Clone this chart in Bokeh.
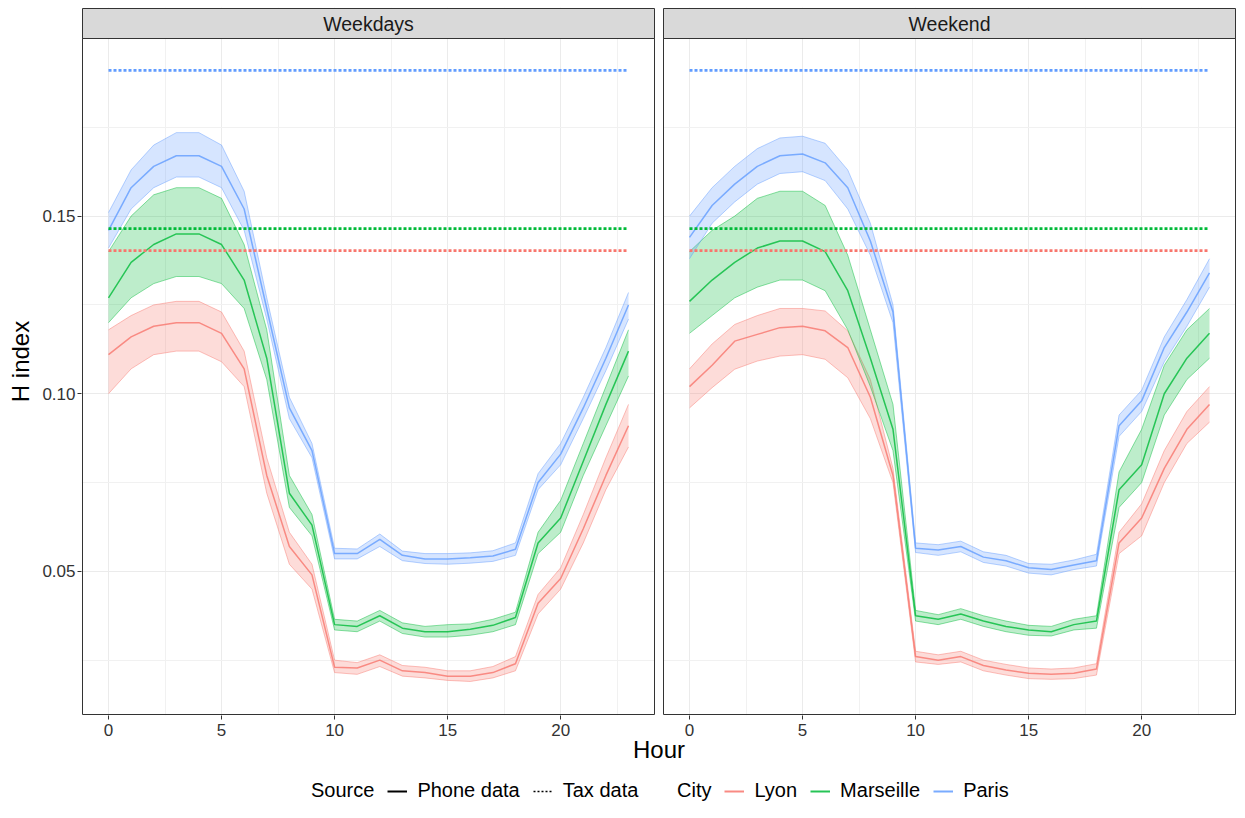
from bokeh.plotting import figure
from bokeh.layouts import column
from bokeh.models import (Range1d, FixedTicker, CustomJSTickFormatter, PrintfTickFormatter,
                          Legend, LegendItem)
from bokeh.core.properties import value
from bokeh.embed import file_html
from bokeh.resources import INLINE

# ---------------- data ----------------
hours = list(range(24))
facets = ["Weekdays", "Weekend"]
cities = ["Lyon", "Marseille", "Paris"]
city_colors = ["#F8766D", "#00BA38", "#619CFF"]
tax_h_index = [0.1403, 0.1465, 0.1910]   # Lyon, Marseille, Paris (tax data)

# Phone data: upper / middle / lower lines of each city's bundle of curves
wd_lyon_hi = [0.118, 0.122, 0.125, 0.126, 0.126, 0.123, 0.112, 0.082, 0.061, 0.052, 0.025, 0.0243,
              0.0265, 0.0235, 0.023, 0.022, 0.022, 0.0232, 0.026, 0.0435, 0.051, 0.066, 0.082, 0.097]
wd_lyon_mid = [0.111, 0.116, 0.119, 0.120, 0.120, 0.117, 0.107, 0.077, 0.057, 0.049, 0.023, 0.0228,
               0.025, 0.022, 0.0215, 0.0205, 0.0205, 0.0215, 0.024, 0.041, 0.048, 0.062, 0.077, 0.091]
wd_lyon_lo = [0.100, 0.107, 0.111, 0.112, 0.112, 0.109, 0.102, 0.072, 0.052, 0.045, 0.0215, 0.021,
              0.0232, 0.0205, 0.020, 0.0193, 0.019, 0.020, 0.022, 0.038, 0.045, 0.058, 0.073, 0.085]

wd_mars_hi = [0.140, 0.150, 0.156, 0.158, 0.158, 0.155, 0.142, 0.118, 0.077, 0.066, 0.0365, 0.036,
              0.039, 0.0355, 0.0345, 0.035, 0.0352, 0.0365, 0.0385, 0.061, 0.070, 0.086, 0.102, 0.118]
wd_mars_mid = [0.127, 0.137, 0.142, 0.145, 0.145, 0.142, 0.132, 0.110, 0.072, 0.063, 0.035, 0.0345,
               0.0375, 0.034, 0.033, 0.033, 0.0337, 0.0348, 0.037, 0.058, 0.065, 0.081, 0.097, 0.112]
wd_mars_lo = [0.120, 0.127, 0.131, 0.133, 0.133, 0.131, 0.124, 0.104, 0.068, 0.060, 0.0335, 0.033,
              0.036, 0.0325, 0.0315, 0.0315, 0.032, 0.033, 0.035, 0.055, 0.061, 0.077, 0.091, 0.105]

wd_paris_hi = [0.151, 0.163, 0.170, 0.1735, 0.1735, 0.170, 0.157, 0.127, 0.099, 0.086, 0.0565, 0.0563,
               0.0605, 0.0557, 0.055, 0.055, 0.0552, 0.0558, 0.058, 0.0775, 0.086, 0.099, 0.113, 0.1285]
wd_paris_mid = [0.146, 0.158, 0.164, 0.167, 0.167, 0.164, 0.152, 0.124, 0.096, 0.084, 0.055, 0.055,
                0.059, 0.0545, 0.0535, 0.0535, 0.0538, 0.0543, 0.0562, 0.075, 0.083, 0.096, 0.110, 0.125]
wd_paris_lo = [0.141, 0.152, 0.158, 0.161, 0.161, 0.158, 0.146, 0.121, 0.093, 0.082, 0.0535, 0.0535,
               0.057, 0.053, 0.0522, 0.052, 0.0523, 0.0528, 0.0545, 0.073, 0.080, 0.093, 0.1065, 0.121]

we_lyon_hi = [0.107, 0.114, 0.1195, 0.122, 0.124, 0.124, 0.1233, 0.1177, 0.104, 0.079, 0.0275, 0.0265,
              0.0275, 0.025, 0.0238, 0.0228, 0.0225, 0.0228, 0.024, 0.061, 0.069, 0.084, 0.095, 0.102]
we_lyon_mid = [0.102, 0.108, 0.1148, 0.1167, 0.1186, 0.119, 0.1177, 0.113, 0.099, 0.077, 0.026, 0.025,
               0.026, 0.0235, 0.0222, 0.0213, 0.021, 0.0213, 0.0225, 0.058, 0.065, 0.079, 0.090, 0.097]
we_lyon_lo = [0.096, 0.1017, 0.1069, 0.1092, 0.1106, 0.111, 0.1097, 0.1045, 0.093, 0.075, 0.0245, 0.0238,
              0.0245, 0.022, 0.0208, 0.0198, 0.0196, 0.0198, 0.0208, 0.055, 0.060, 0.075, 0.086, 0.092]

we_mars_hi = [0.140, 0.146, 0.150, 0.155, 0.157, 0.157, 0.153, 0.139, 0.118, 0.097, 0.039, 0.0378,
              0.0395, 0.0375, 0.036, 0.0348, 0.0345, 0.0365, 0.0375, 0.078, 0.090, 0.108, 0.118, 0.124]
we_mars_mid = [0.126, 0.132, 0.137, 0.141, 0.143, 0.143, 0.140, 0.129, 0.110, 0.090, 0.0375, 0.0365,
               0.038, 0.036, 0.0345, 0.0335, 0.033, 0.035, 0.036, 0.073, 0.080, 0.100, 0.110, 0.117]
we_mars_lo = [0.117, 0.122, 0.127, 0.130, 0.132, 0.132, 0.129, 0.118, 0.102, 0.084, 0.036, 0.035,
              0.0365, 0.0345, 0.033, 0.032, 0.0318, 0.0335, 0.034, 0.068, 0.075, 0.094, 0.104, 0.110]

we_paris_hi = [0.150, 0.158, 0.164, 0.169, 0.172, 0.1725, 0.1705, 0.163, 0.148, 0.125, 0.058, 0.0575,
               0.0585, 0.0555, 0.0545, 0.0522, 0.052, 0.0532, 0.0548, 0.094, 0.101, 0.116, 0.1265, 0.138]
we_paris_mid = [0.144, 0.153, 0.159, 0.164, 0.167, 0.1675, 0.165, 0.158, 0.143, 0.123, 0.0565, 0.056,
                0.057, 0.054, 0.053, 0.051, 0.0505, 0.0518, 0.053, 0.091, 0.098, 0.113, 0.123, 0.134]
we_paris_lo = [0.138, 0.148, 0.154, 0.159, 0.162, 0.1625, 0.160, 0.152, 0.139, 0.120, 0.0553, 0.0545,
               0.0555, 0.0525, 0.0515, 0.0495, 0.049, 0.0505, 0.0515, 0.088, 0.095, 0.109, 0.119, 0.130]

x_major = [0, 5, 10, 15, 20]
x_minor = [2.5, 7.5, 12.5, 17.5, 22.5]
y_major = [0.05, 0.10, 0.15]
y_minor = [0.025, 0.075, 0.125, 0.175]

phone = {
    "Weekdays": [(wd_lyon_lo, wd_lyon_mid, wd_lyon_hi),
                 (wd_mars_lo, wd_mars_mid, wd_mars_hi),
                 (wd_paris_lo, wd_paris_mid, wd_paris_hi)],
    "Weekend": [(we_lyon_lo, we_lyon_mid, we_lyon_hi),
                (we_mars_lo, we_mars_mid, we_mars_hi),
                (we_paris_lo, we_paris_mid, we_paris_hi)],
}

# ---------------- layout geometry ----------------
FONT = "Liberation Sans"
W = 1236
H_MAIN, H_LEG = 770, 32
frame_left = 81
frame_top = 7
gap_px = 9
strip_px, panel_h_px = 30, 676
frame_w = W - frame_left
panel_px = (frame_w - 2 - gap_px) / 2

span = hours[-1] - hours[0]
x_lo = hours[0] - 0.05 * span
x_hi = hours[-1] + 0.05 * span
panel_w = x_hi - x_lo
px_per_x = panel_px / panel_w
offset = panel_w + gap_px / px_per_x            # x shift of the second facet
pad_x = 1.0 / px_per_x

y_lo, y_panel_top = 0.0097, 0.2000
px_per_y = panel_h_px / (y_panel_top - y_lo)
y_strip_top = y_panel_top + strip_px / px_per_y
pad_y = 1.0 / px_per_y
frame_h = strip_px + panel_h_px + 2

p = figure(width=W, height=H_MAIN, output_backend="svg", toolbar_location=None,
           x_range=Range1d(x_lo - pad_x, x_lo - pad_x + frame_w / px_per_x),
           y_range=Range1d(y_lo - pad_y, y_strip_top + pad_y),
           min_border_left=frame_left, min_border_right=0,
           min_border_top=frame_top, min_border_bottom=H_MAIN - frame_top - frame_h)
p.outline_line_color = None
p.background_fill_color = "white"
p.border_fill_color = "white"

# ---------------- axes & grid ----------------
p.xaxis.ticker = FixedTicker(ticks=x_major + [t + offset for t in x_major],
                             minor_ticks=x_minor + [t + offset for t in x_minor])
p.xaxis.formatter = CustomJSTickFormatter(
    args=dict(off=offset, mid=x_hi + 0.5 * gap_px / px_per_x),
    code="const v = tick > mid ? tick - off : tick; return v.toFixed(0);")
p.yaxis.ticker = FixedTicker(ticks=y_major, minor_ticks=y_minor)
p.yaxis.formatter = PrintfTickFormatter(format="%.2f")

for ax in (p.xaxis[0], p.yaxis[0]):
    ax.axis_line_color = None
    ax.major_tick_line_color = "#333333"
    ax.major_tick_line_width = 1
    ax.major_tick_in = 0
    ax.major_tick_out = 4
    ax.minor_tick_line_color = None
    ax.major_label_text_font = FONT
    ax.major_label_text_font_size = "17px"
    ax.major_label_text_color = "#333333"
    ax.axis_label_text_font = FONT
    ax.axis_label_text_font_size = "24px"
    ax.axis_label_text_font_style = "normal"
    ax.axis_label_text_color = "black"

p.xaxis.axis_label = "Hour"
p.xaxis.major_label_standoff = 4
p.xaxis.axis_label_standoff = -3
p.yaxis.axis_label = "H index"
p.yaxis.major_label_standoff = 2
p.yaxis.axis_label_standoff = 5

for g in (p.xgrid[0], p.ygrid[0]):
    g.grid_line_color = "#EBEBEB"
    g.grid_line_width = 1
    g.minor_grid_line_color = "#F1F1F1"
    g.minor_grid_line_width = 1

# ---------------- phone data bundles ----------------
for fi, facet in enumerate(facets):
    xs = [h + fi * offset for h in hours]
    for ci, color in enumerate(city_colors):
        lo, mid, hi = phone[facet][ci]
        p.varea(x=xs, y1=lo, y2=hi, fill_color=color, fill_alpha=0.26)
        p.line(xs, hi, line_color=color, line_alpha=0.45, line_width=1)
        p.line(xs, lo, line_color=color, line_alpha=0.45, line_width=1)
        p.line(xs, mid, line_color=color, line_alpha=0.8, line_width=1.5)

# ---------------- tax data ----------------
for fi, facet in enumerate(facets):
    for ci, color in enumerate(city_colors):
        p.line([hours[0] + fi * offset, hours[-1] + fi * offset], [tax_h_index[ci]] * 2,
               line_color=color, line_width=2.7, line_dash="3 2")

# ---------------- facet decorations ----------------
lefts = [x_lo + fi * offset for fi in range(len(facets))]
rights = [x_hi + fi * offset for fi in range(len(facets))]
p.quad(left=[x_hi], right=[x_lo + offset], bottom=[y_lo - 2 * pad_y], top=[y_strip_top + 2 * pad_y],
       fill_color="white", line_color=None)
p.quad(left=lefts, right=rights, bottom=[y_panel_top] * 2, top=[y_strip_top] * 2,
       fill_color="#D9D9D9", line_color="#333333", line_width=1)
p.text(x=[(a + b) / 2 for a, b in zip(lefts, rights)], y=[(y_panel_top + y_strip_top) / 2] * 2,
       text=facets, text_align="center", text_baseline="middle",
       text_font=value(FONT), text_font_size="19.5px", text_color="#1A1A1A")
p.quad(left=lefts, right=rights, bottom=[y_lo] * 2, top=[y_panel_top] * 2,
       fill_color=None, line_color="#333333", line_width=1)

# ---------------- legend strip (separate figure below) ----------------
leg = figure(width=W, height=H_LEG, output_backend="svg", toolbar_location=None,
             x_range=Range1d(0, 1), y_range=Range1d(0, 1),
             min_border_left=frame_left, min_border_right=0, min_border_top=0, min_border_bottom=0)
leg.axis.visible = False
leg.grid.visible = False
leg.outline_line_color = None
leg.background_fill_color = "white"
leg.border_fill_color = "white"

nan = float("nan")
blank = leg.line([nan], [nan], line_alpha=0)
r_phone = leg.line([nan], [nan], line_color="black", line_width=2)
r_tax = leg.line([nan], [nan], line_color="black", line_width=1.5, line_dash="2 2")
r_city = [leg.line([nan], [nan], line_color=c, line_width=2, line_alpha=0.85) for c in city_colors]

glyph_w, standoff = 20, 10

def make_legend(items, text_x):
    left = text_x - frame_left - glyph_w - standoff
    lg = Legend(items=items, location=(left, 0), orientation="horizontal",
                glyph_width=glyph_w, glyph_height=20, label_standoff=standoff, spacing=13,
                padding=0, margin=0, background_fill_alpha=0, border_line_color=None,
                label_text_font=FONT, label_text_font_size="20px", label_text_color="black")
    leg.add_layout(lg)

make_legend([LegendItem(label="Source", renderers=[blank]),
             LegendItem(label="Phone data", renderers=[r_phone]),
             LegendItem(label="Tax data", renderers=[r_tax])], 311)
make_legend([LegendItem(label="City", renderers=[blank])] +
            [LegendItem(label=c, renderers=[r]) for c, r in zip(cities, r_city)], 677)

layout = column(p, leg, spacing=0)
open("out.html", "w").write(file_html(layout, INLINE))
